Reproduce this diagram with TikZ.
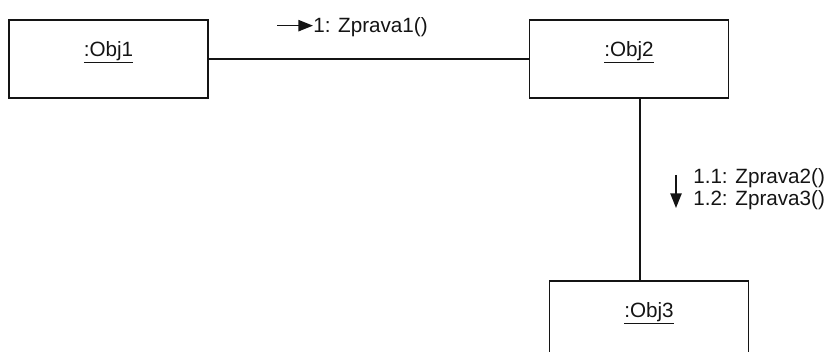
\documentclass[tikz,border=0pt]{standalone}
\usepackage{fontspec}
\setmainfont{Liberation Sans}
\usetikzlibrary{arrows.meta, positioning, calc}
\definecolor{mydark}{RGB}{20,20,20}
\tikzset{
  objbox/.style={rectangle, draw=mydark, line width=1.1pt,
    minimum width=149pt, minimum height=58.5pt, inner sep=0pt},
  objname/.style={anchor=base, font=\fontsize{15.5}{18}\selectfont, text=mydark},
  msgtext/.style={font=\fontsize{15.5}{16.5}\selectfont, text=mydark,
    align=left, inner sep=0pt},
  msgarrow/.style={-{Triangle[length=11pt, width=8.5pt]}, line width=1.1pt, color=mydark},
  link/.style={line width=1.1pt, color=mydark}
}

\begin{document}
\begin{tikzpicture}[x=0.75pt, y=-0.75pt]
  \useasboundingbox (0,0) rectangle (833,352);
  \clip (0,0) rectangle (833,352);

  % Objects
  \node[objbox] (obj1) at (108.5,59) {};
  \node[objbox] (obj2) at (629,59) {};
  \node[objbox] (obj3) at (649,320) {};

  % Object names (underlined)
  \node[objname] (obj1name) at ($(obj1.north)+(0,37)$) {\underline{:Obj1}};
  \node[objname] (obj2name) at ($(obj2.north)+(0,37)$) {\underline{:Obj2}};
  \node[objname] (obj3name) at ($(obj3.north)+(0,37)$) {\underline{:Obj3}};

  % Links
  \draw[link] (obj1) -- (obj2);
  \coordinate (vlink) at (640,0);
  \draw[link] (obj2.south -| vlink) -- (obj3.north -| vlink);

  % Message on link Obj1 - Obj2
  \node[msgtext, anchor=base west] (msg1) at (313,33) {1: Zprava1()};
  \coordinate (msg1tail) at ($(msg1.west)+(-36,-2)$);
  \coordinate (msg1tip) at ($(msg1.west)+(0,-2)$);
  \draw[msgarrow] (msg1tail) -- (msg1tip);

  % Messages on link Obj2 - Obj3
  \node[msgtext, anchor=north west] (msg2) at (693,168) {1.1: Zprava2()\\1.2: Zprava3()};
  \coordinate (msg2tail) at ($(msg2.north west)+(-17,7)$);
  \coordinate (msg2tip) at ($(msg2.north west)+(-17,40)$);
  \draw[msgarrow] (msg2tail) -- (msg2tip);
\end{tikzpicture}
\end{document}
